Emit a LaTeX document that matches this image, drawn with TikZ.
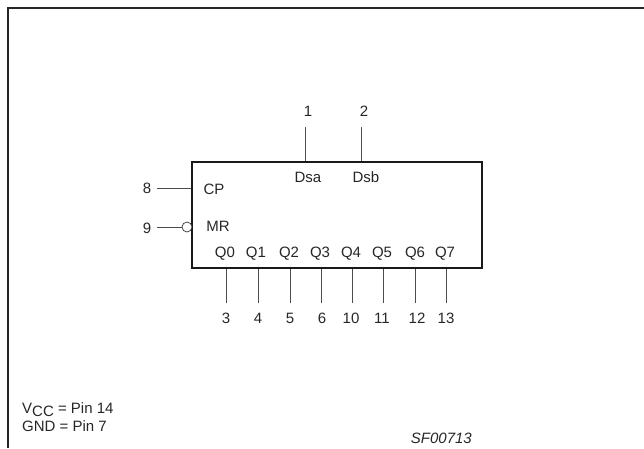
\documentclass[tikz,border=0pt]{standalone}
\usepackage{fontspec}
\setmainfont{Liberation Sans}
\usetikzlibrary{calc}
\tikzset{
	lbl/.style={inner sep=0pt, font=\fontsize{15}{17}\selectfont, text=black!85},
	pin/.style={line width=0.7pt, color=black!70},
	frameline/.style={line width=2pt, color=black!85},
	chip/.style={draw=black!90, line width=1.8pt, minimum width=290pt, minimum height=106pt, inner sep=0pt},
	bubble/.style={circle, draw=black!80, fill=white, line width=0.7pt, minimum size=10pt, inner sep=0pt}
}

\begin{document}
\begin{tikzpicture}[x=1pt, y=-1pt]
	\useasboundingbox (0, 0) rectangle (644, 448);
	
	% sheet edge, only top and left show
	\coordinate (corner) at (8, 8);
	\coordinate (topend) at (644, 8);
	\coordinate (leftend) at (8, 448);
	\draw[frameline] (topend) -- (corner) -- (leftend);
	
	\node[chip] (box) at (337, 215) {};
	
	% labels inside
	\node[lbl] (cp) at (214, 189) {CP};
	\node[lbl] (mr) at (218, 226) {MR};
	\node[lbl] (dsa) at (308, 177) {Dsa};
	\node[lbl] (dsb) at (366, 177) {Dsb};
	\node[lbl] (q0) at (225, 254) {Q0};
	\node[lbl] (q1) at (256, 254) {Q1};
	\node[lbl] (q2) at (289, 254) {Q2};
	\node[lbl] (q3) at (320, 254) {Q3};
	\node[lbl] (q4) at (351, 254) {Q4};
	\node[lbl] (q5) at (382, 254) {Q5};
	\node[lbl] (q6) at (415, 254) {Q6};
	\node[lbl] (q7) at (445, 254) {Q7};
	
	% pin numbers
	\node[lbl] (n1) at (308, 111) {1};
	\node[lbl] (n2) at (364, 111) {2};
	\node[lbl] (n8) at (147, 188) {8};
	\node[lbl] (n9) at (147, 228) {9};
	\node[lbl] (n3) at (226, 318) {3};
	\node[lbl] (n4) at (258, 318) {4};
	\node[lbl] (n5) at (290, 318) {5};
	\node[lbl] (n6) at (322, 318) {6};
	\node[lbl] (n10) at (351, 318) {10};
	\node[lbl] (n11) at (382, 318) {11};
	\node[lbl] (n12) at (417, 318) {12};
	\node[lbl] (n13) at (446, 318) {13};
	
	% free ends of the pins
	\coordinate (p1) at (305, 127);
	\coordinate (p2) at (361, 127);
	\coordinate (p8) at (157, 188);
	\coordinate (p9) at (157, 227);
	\coordinate (p3) at (226, 303);
	\coordinate (p4) at (258, 303);
	\coordinate (p5) at (290, 303);
	\coordinate (p6) at (321, 303);
	\coordinate (p10) at (352, 303);
	\coordinate (p11) at (383, 303);
	\coordinate (p12) at (415, 303);
	\coordinate (p13) at (446, 303);
	
	\node[bubble] (inv) at (187, 227) {};
	
	\draw[pin] (p1) -- (p1 |- box.north);
	\draw[pin] (p2) -- (p2 |- box.north);
	\draw[pin] (p8) -- (p8 -| box.west);
	\draw[pin] (p9) -- (inv);
	\draw[pin] (p3) -- (p3 |- box.south);
	\draw[pin] (p4) -- (p4 |- box.south);
	\draw[pin] (p5) -- (p5 |- box.south);
	\draw[pin] (p6) -- (p6 |- box.south);
	\draw[pin] (p10) -- (p10 |- box.south);
	\draw[pin] (p11) -- (p11 |- box.south);
	\draw[pin] (p12) -- (p12 |- box.south);
	\draw[pin] (p13) -- (p13 |- box.south);
	
	% notes
	\node[lbl, anchor=base west] (vcc) at (22, 413) {V\raisebox{-3pt}{CC} = Pin 14};
	\node[lbl, anchor=base west] (gnd) at (22, 431) {GND = Pin 7};
	\node[lbl, anchor=base east, font=\fontsize{15}{17}\itshape] (code) at (472, 443) {SF00713};
\end{tikzpicture}
\end{document}
